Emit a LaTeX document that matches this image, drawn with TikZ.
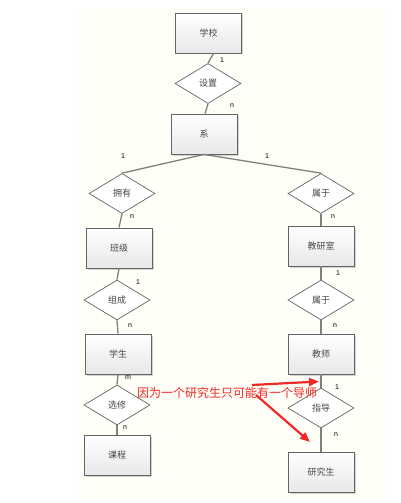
\documentclass[tikz,border=0pt]{standalone}
\usepackage{fontspec}
\setmainfont{Liberation Sans}
\newfontfamily\cjk{Noto Sans CJK SC}
\usetikzlibrary{shapes.geometric,shadows,arrows.meta}
\definecolor{bgcream}{RGB}{255,255,247}
\definecolor{edgegray}{RGB}{128,128,128}
\definecolor{boxgray}{RGB}{100,100,100}
\definecolor{txtgray}{RGB}{70,70,70}
\definecolor{noteRed}{RGB}{240,40,40}
\tikzset{
  entity/.style={rectangle,draw=boxgray,line width=0.9pt,minimum width=66pt,minimum height=40pt,
    top color=white,bottom color=black!9,inner sep=0pt,
    drop shadow={shadow xshift=1.5pt,shadow yshift=-1.5pt,fill=black!35},
    font=\cjk\fontsize{9}{10}\selectfont,text=txtgray},
  rel/.style={diamond,draw=boxgray,line width=0.7pt,minimum width=66pt,minimum height=40pt,
    fill=white,inner sep=0pt,font=\cjk\fontsize{9}{10}\selectfont,text=txtgray},
  conn/.style={draw=edgegray,line width=1.3pt},
  card/.style={font=\fontsize{7}{8}\selectfont,text=black,inner sep=0pt},
  note/.style={font=\cjk\fontsize{12}{13}\selectfont,text=noteRed,inner sep=0pt},
  notearrow/.style={draw=noteRed,line width=2.2pt,-{Triangle[length=10pt,width=8pt]}}
}
\begin{document}
\begin{tikzpicture}[x=1pt,y=-1pt]
\useasboundingbox (0,0) rectangle (400,503);
\fill[bgcream] (79,8) rectangle (385,500);
% entities
\node[entity] (school) at (208.5,33) {学校};
\node[rel] (set) at (208,83.5) {设置};
\node[entity] (dept) at (204,134) {系};
\node[rel] (own) at (122,193.5) {拥有};
\node[rel] (bel1) at (321,193.5) {属于};
\node[entity] (cls) at (119,248) {班级};
\node[entity] (office) at (321,246) {教研室};
\node[rel] (form) at (117,300) {组成};
\node[rel] (bel2) at (321,300) {属于};
\node[entity] (stu) at (118,354) {学生};
\node[entity] (teacher) at (321,354) {教师};
\node[rel] (elect) at (117,405) {选修};
\node[rel] (guide) at (321,408) {指导};
\node[entity] (course) at (117,455.5) {课程};
\node[entity] (grad) at (321,472) {研究生};
% connectors
\draw[conn] ([xshift=5pt]school.south) -- (set.north);
\draw[conn] (set.south) -- ([xshift=1pt]dept.north);
\draw[conn] (dept.south) -- (own.north);
\draw[conn] (dept.south) -- (bel1.north);
\draw[conn] (own.south) -- (cls.north);
\draw[conn] (bel1.south) -- (office.north);
\draw[conn] (cls.south) -- (form.north);
\draw[conn] (office.south) -- (bel2.north);
\draw[conn] (form.south) -- (stu.north);
\draw[conn] (bel2.south) -- (teacher.north);
\draw[conn] (stu.south) -- (elect.north);
\draw[conn] (teacher.south) -- (guide.north);
\draw[conn] (elect.south) -- (course.north);
\draw[conn] (guide.south) -- (grad.north);
% cardinalities
\node[card] (c1) at (222,60) {1};
\node[card] (c2) at (232,106) {n};
\node[card] (c3) at (123,156) {1};
\node[card] (c4) at (267,156) {1};
\node[card] (c5) at (132,217) {n};
\node[card] (c6) at (333,217) {n};
\node[card] (c7) at (138,282) {1};
\node[card] (c8) at (130,326) {n};
\node[card] (c9) at (338,273) {1};
\node[card] (c10) at (335,326) {n};
\node[card] (c11) at (128,378) {m};
\node[card] (c12) at (125,428) {n};
\node[card] (c13) at (337,387) {1};
\node[card] (c14) at (336,435) {n};
% note
\node[note] (txt) at (227,393) {因为一个研究生只可能有一个导师};
\coordinate (a1s) at (252,385);
\coordinate (a1e) at (319,381.5);
\coordinate (a2s) at (256,395);
\coordinate (a2e) at (310,442);
\draw[notearrow] (a1s) -- (a1e);
\draw[notearrow] (a2s) -- (a2e);
\end{tikzpicture}
\end{document}
